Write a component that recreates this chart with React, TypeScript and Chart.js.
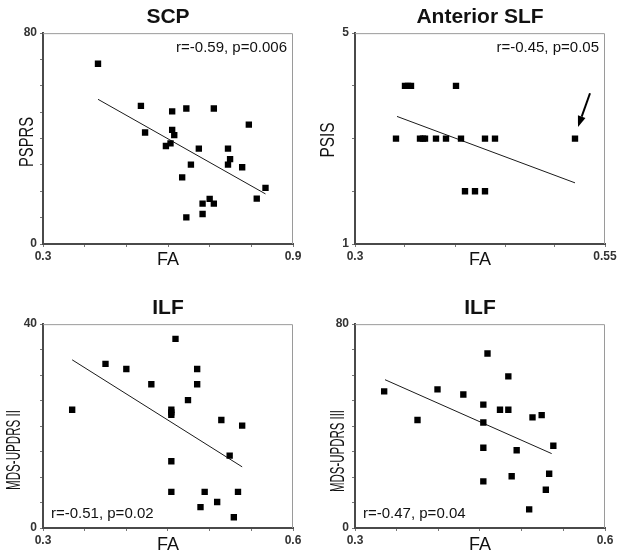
import React, { useEffect, useRef } from 'react';
import { Chart, registerables } from 'chart.js';

Chart.register(...registerables);

const FONT = "'Liberation Sans', Arial, Helvetica, sans-serif";

// ---------- Panel 1: SCP ----------
const scpFA = [0.432, 0.535, 0.545, 0.610, 0.610, 0.615, 0.606, 0.595, 0.644, 0.634, 0.655, 0.674, 0.644, 0.683, 0.683, 0.700, 0.710, 0.710, 0.744, 0.744, 0.749, 0.778, 0.794, 0.813, 0.834];
const scpPSPRS = [68.4, 52.4, 42.3, 50.3, 43.3, 41.3, 38.2, 37.2, 51.4, 25.3, 30.1, 36.2, 10.1, 15.3, 11.4, 17.1, 15.3, 51.4, 36.2, 30.1, 32.2, 29.1, 45.3, 17.2, 21.3];
const scpFitFA = [0.432, 0.834];
const scpFitY = [54.9, 19.0];
const scpXTicks = ['0.3', '0.9'];
const scpYTicks = ['0', '80'];

// ---------- Panel 2: Anterior SLF ----------
const slfFA = [0.341, 0.350, 0.353, 0.356, 0.365, 0.368, 0.370, 0.381, 0.391, 0.401, 0.406, 0.410, 0.420, 0.430, 0.430, 0.440, 0.520];
const slfPSIS = [3, 4, 4, 4, 3, 3, 3, 3, 3, 4, 3, 2, 2, 2, 3, 3, 3];
const slfFitFA = [0.342, 0.520];
const slfFitY = [3.42, 2.16];
const slfXTicks = ['0.3', '0.55'];
const slfYTicks = ['1', '5'];
const slfArrowFA = [0.535, 0.523];
const slfArrowY = [3.86, 3.22];

// ---------- Panel 3: ILF (MDS-UPDRS II) ----------
const ilf2FA = [0.335, 0.375, 0.400, 0.430, 0.459, 0.454, 0.454, 0.454, 0.454, 0.454, 0.474, 0.485, 0.485, 0.489, 0.494, 0.509, 0.514, 0.524, 0.529, 0.534, 0.539];
const ilf2Score = [23.2, 32.2, 31.2, 28.2, 37.1, 23.2, 22.7, 22.2, 13.1, 7.1, 25.1, 31.2, 28.2, 4.1, 7.1, 5.1, 21.2, 14.2, 2.1, 7.1, 20.1];
const ilf2FitFA = [0.335, 0.539];
const ilf2FitY = [33.0, 12.0];
const ilf2XTicks = ['0.3', '0.6'];
const ilf2YTicks = ['0', '40'];

// ---------- Panel 4: ILF (MDS-UPDRS III) ----------
const ilf3FA = [0.335, 0.375, 0.399, 0.430, 0.459, 0.454, 0.454, 0.454, 0.454, 0.474, 0.484, 0.484, 0.488, 0.494, 0.509, 0.513, 0.524, 0.529, 0.533, 0.538];
const ilf3Score = [53.6, 42.4, 54.4, 52.4, 68.5, 48.4, 41.4, 31.5, 18.3, 46.4, 46.4, 59.5, 20.3, 30.5, 7.3, 43.4, 44.3, 15.0, 21.3, 32.3];
const ilf3FitFA = [0.336, 0.536];
const ilf3FitY = [58.2, 29.2];
const ilf3XTicks = ['0.3', '0.6'];
const ilf3YTicks = ['0', '80'];

type PanelProps = {
  left: number;
  top: number;
  h: number;
  title: string;
  titlePadTop: number;
  yLabel: string;
  yLabelX: number;
  yLabelY: number;
  yLabelW: number;
  yLabelSize: number;
  xs: number[];
  ys: number[];
  fitX: number[];
  fitY: number[];
  xMin: number; xMax: number; xStep: number;
  yMin: number; yMax: number; yStep: number;
  xTicks: string[];
  yTicks: string[];
  stat: string;
  statTop: boolean;
  xTitlePadBottom: number;
  arrowX?: number[];
  arrowY?: number[];
};

function Panel(p: PanelProps) {
  const ref = useRef<HTMLCanvasElement>(null);
  useEffect(() => {
    if (!ref.current) return;
    const overlay = {
      id: 'overlay',
      afterDraw(chart: any) {
        const { ctx, chartArea } = chart;
        const { left, right, top, bottom } = chartArea;
        ctx.save();
        // light frame on top and right
        ctx.strokeStyle = '#9a9a9a';
        ctx.lineWidth = 1;
        ctx.beginPath();
        ctx.moveTo(left, top + 0.5);
        ctx.lineTo(right - 0.5, top + 0.5);
        ctx.lineTo(right - 0.5, bottom);
        ctx.stroke();
        // stat text
        ctx.fillStyle = '#111';
        ctx.font = `15px ${FONT}`;
        ctx.textBaseline = 'middle';
        if (p.statTop) {
          ctx.textAlign = 'right';
          ctx.fillText(p.stat, right - 6, top + 15);
        } else {
          ctx.textAlign = 'left';
          ctx.fillText(p.stat, left + 8, bottom - 14);
        }
        // y label (condensed)
        ctx.save();
        ctx.translate(p.yLabelX, p.yLabelY);
        ctx.rotate(-Math.PI / 2);
        ctx.textAlign = 'center';
        ctx.textBaseline = 'middle';
        ctx.font = `${p.yLabelSize}px ${FONT}`;
        ctx.fillText(p.yLabel, 0, 0, p.yLabelW);
        ctx.restore();
        // arrow
        if (p.arrowX && p.arrowY) {
          const xs = chart.scales.x, ys = chart.scales.y;
          const x1 = xs.getPixelForValue(p.arrowX[0]);
          const y1 = ys.getPixelForValue(p.arrowY[0]);
          const x2 = xs.getPixelForValue(p.arrowX[1]);
          const y2 = ys.getPixelForValue(p.arrowY[1]);
          const ang = Math.atan2(y2 - y1, x2 - x1);
          const headLen = 11, headW = 4;
          const bx = x2 - headLen * Math.cos(ang);
          const by = y2 - headLen * Math.sin(ang);
          ctx.strokeStyle = '#000';
          ctx.fillStyle = '#000';
          ctx.lineWidth = 2;
          ctx.beginPath();
          ctx.moveTo(x1, y1);
          ctx.lineTo(bx, by);
          ctx.stroke();
          ctx.beginPath();
          ctx.moveTo(x2, y2);
          ctx.lineTo(bx + headW * Math.sin(ang), by - headW * Math.cos(ang));
          ctx.lineTo(bx - headW * Math.sin(ang), by + headW * Math.cos(ang));
          ctx.closePath();
          ctx.fill();
        }
        ctx.restore();
      },
    };
    const near = (a: number, b: number) => Math.abs(a - b) < 1e-9;
    const chart = new Chart(ref.current, {
      type: 'scatter',
      data: {
        datasets: [
          {
            type: 'scatter',
            data: p.xs.map((x, i) => ({ x, y: p.ys[i] })),
            pointStyle: 'rect',
            pointRadius: 4.5,
            backgroundColor: '#000',
            borderWidth: 0,
          } as any,
          {
            type: 'line',
            data: p.fitX.map((x, i) => ({ x, y: p.fitY[i] })),
            borderColor: '#1a1a1a',
            borderWidth: 1,
            pointRadius: 0,
            fill: false,
            tension: 0,
          } as any,
        ],
      },
      options: {
        responsive: false,
        animation: false,
        events: [],
        layout: { padding: { left: 0, right: 19, top: 0, bottom: 0 } },
        plugins: {
          legend: { display: false },
          tooltip: { enabled: false },
          title: {
            display: true,
            text: p.title,
            fullSize: false,
            color: '#111',
            font: { family: FONT, size: 21, weight: 'bold', lineHeight: 1.15 },
            padding: { top: p.titlePadTop, bottom: 4 },
          },
        },
        scales: {
          x: {
            type: 'linear',
            min: p.xMin,
            max: p.xMax,
            afterFit: (s: any) => { s.height = p.h - (p.statTop ? 244 : 248); },
            border: { display: true, color: '#4a4a4a', width: 2 },
            grid: { drawOnChartArea: false, drawTicks: true, tickLength: 3, tickColor: '#777' },
            ticks: {
              stepSize: p.xStep,
              autoSkip: false,
              maxRotation: 0,
              padding: 2,
              color: '#333',
              font: { family: FONT, size: 12, weight: 'bold' },
              callback: (v: any) => near(v, p.xMin) ? p.xTicks[0] : near(v, p.xMax) ? p.xTicks[1] : '',
            },
            title: {
              display: true,
              text: 'FA',
              color: '#111',
              font: { family: FONT, size: 18 },
              padding: { top: 0, bottom: p.xTitlePadBottom },
            },
          },
          y: {
            type: 'linear',
            min: p.yMin,
            max: p.yMax,
            afterFit: (s: any) => { s.width = 43; },
            border: { display: true, color: '#4a4a4a', width: 2 },
            grid: { drawOnChartArea: false, drawTicks: true, tickLength: 3, tickColor: '#777' },
            ticks: {
              stepSize: p.yStep,
              autoSkip: false,
              padding: 3,
              color: '#333',
              font: { family: FONT, size: 12, weight: 'bold' },
              callback: (v: any) => near(v, p.yMin) ? p.yTicks[0] : near(v, p.yMax) ? p.yTicks[1] : '',
            },
          },
        },
      } as any,
      plugins: [overlay],
    });
    return () => chart.destroy();
  }, []);
  return (
    <canvas
      ref={ref}
      width={312}
      height={p.h}
      style={{ position: 'absolute', left: p.left, top: p.top, width: 312, height: p.h }}
    />
  );
}

export default function App() {
  return (
    <div style={{ position: 'fixed', left: 0, top: 0, width: 624, height: 557, background: '#fff' }}>
      <Panel left={0} top={0} h={280} title="SCP" titlePadTop={5}
        yLabel="PSPRS" yLabelX={27} yLabelY={142} yLabelW={50} yLabelSize={21}
        xs={scpFA} ys={scpPSPRS} fitX={scpFitFA} fitY={scpFitY}
        xMin={0.3} xMax={0.9} xStep={0.1} yMin={0} yMax={80} yStep={10}
        xTicks={scpXTicks} yTicks={scpYTicks}
        stat="r=-0.59, p=0.006" statTop={true} xTitlePadBottom={9} />
      <Panel left={312} top={0} h={280} title="Anterior SLF" titlePadTop={5}
        yLabel="PSIS" yLabelX={16} yLabelY={140} yLabelW={35} yLabelSize={21}
        xs={slfFA} ys={slfPSIS} fitX={slfFitFA} fitY={slfFitY}
        xMin={0.3} xMax={0.55} xStep={0.05} yMin={1} yMax={5} yStep={1}
        xTicks={slfXTicks} yTicks={slfYTicks}
        stat="r=-0.45, p=0.05" statTop={true} xTitlePadBottom={9}
        arrowX={slfArrowFA} arrowY={slfArrowY} />
      <Panel left={0} top={280} h={277} title="ILF" titlePadTop={16}
        yLabel="MDS-UPDRS II" yLabelX={14} yLabelY={170} yLabelW={80} yLabelSize={21}
        xs={ilf2FA} ys={ilf2Score} fitX={ilf2FitFA} fitY={ilf2FitY}
        xMin={0.3} xMax={0.6} xStep={0.05} yMin={0} yMax={40} yStep={5}
        xTicks={ilf2XTicks} yTicks={ilf2YTicks}
        stat="r=-0.51, p=0.02" statTop={false} xTitlePadBottom={1} />
      <Panel left={312} top={280} h={277} title="ILF" titlePadTop={16}
        yLabel="MDS-UPDRS III" yLabelX={26} yLabelY={171} yLabelW={82} yLabelSize={21}
        xs={ilf3FA} ys={ilf3Score} fitX={ilf3FitFA} fitY={ilf3FitY}
        xMin={0.3} xMax={0.6} xStep={0.05} yMin={0} yMax={80} yStep={10}
        xTicks={ilf3XTicks} yTicks={ilf3YTicks}
        stat="r=-0.47, p=0.04" statTop={false} xTitlePadBottom={1} />
    </div>
  );
}
